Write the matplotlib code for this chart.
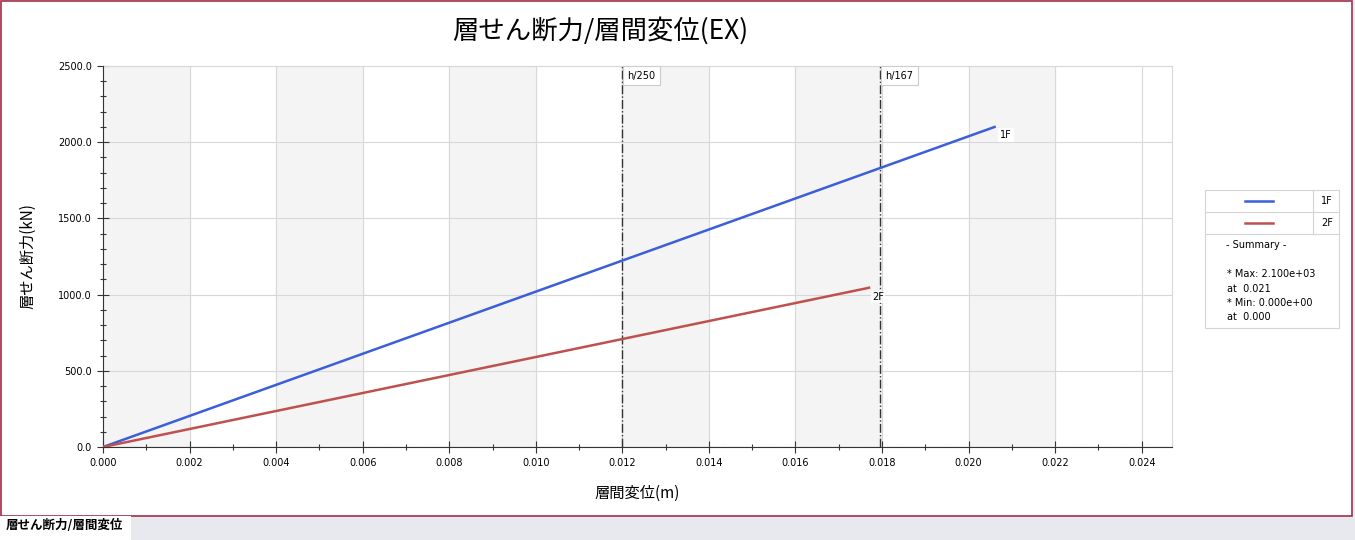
import matplotlib
matplotlib.use("Agg")
import matplotlib.pyplot as plt
from matplotlib.patches import Rectangle
from matplotlib.ticker import MultipleLocator

plt.rcParams['font.family'] = ['DejaVu Sans', 'Noto Sans CJK JP']

# data
stories = ["1F", "2F"]
disp_1f = [0.0, 0.0206]
shear_1f = [0.0, 2100.0]
disp_2f = [0.0, 0.0177]
shear_2f = [0.0, 1045.0]
colors = ["#3a5fd8", "#c0504d"]
limit_names = ["h/250", "h/167"]
limit_vals = [0.012, 0.017964]
summary = ["- Summary -", "", "* Max: 2.100e+03", "at  0.021", "* Min: 0.000e+00", "at  0.000"]

W, H = 1355, 540
fig = plt.figure(figsize=(W / 100, H / 100), dpi=100)

# outer frame and bottom tab
fig.patches.append(Rectangle((0, 0), 1, 1, transform=fig.transFigure,
                             facecolor="#e8e9ee", edgecolor="none", zorder=-3))
fig.patches.append(Rectangle((1 / W, 24 / H), 1351 / W, 515 / H, transform=fig.transFigure,
                             facecolor="white", edgecolor="#a0304a", linewidth=1.2, zorder=-2))
fig.patches.append(Rectangle((0, 0), 131 / W, 24 / H, transform=fig.transFigure,
                             facecolor="white", edgecolor="none", zorder=-1))
fig.text(6 / W, 15 / H, "層せん断力/層間変位", fontsize=9, fontweight="bold", va="center",
         family=['Noto Sans CJK JP', 'DejaVu Sans'])

ax = fig.add_axes([103 / W, 1 - 447 / H, (1172 - 103) / W, (447 - 66) / H])
ax.set_xlim(0, 0.0247)
ax.set_ylim(0, 2500)

# alternating bands
for i in range(0, 24, 4):
    ax.axvspan(i / 1000, (i + 2) / 1000, color="#f4f4f4", zorder=0)
ax.grid(True, color="#d8d8d8", linewidth=0.8, zorder=1)
ax.set_axisbelow(True)
ax.axhline(0, color="#999999", linestyle="--", linewidth=0.8, zorder=1)

ax.xaxis.set_major_locator(MultipleLocator(0.002))
ax.xaxis.set_minor_locator(MultipleLocator(0.001))
ax.yaxis.set_major_locator(MultipleLocator(500))
ax.yaxis.set_minor_locator(MultipleLocator(100))
ax.xaxis.set_major_formatter(lambda v, p: "%.3f" % v)
ax.yaxis.set_major_formatter(lambda v, p: "%.1f" % v)
ax.tick_params(which="major", direction="inout", length=8, width=0.8, color="#333333",
               labelsize=7, pad=4)
ax.tick_params(which="minor", direction="inout", length=5, width=0.8, color="#333333")

for s in ["top", "right"]:
    ax.spines[s].set_visible(False)
ax.spines["left"].set_color("#333333")
ax.spines["bottom"].set_color("#333333")
ax.plot([0, 1], [1, 1], transform=ax.transAxes, color="#d8d8d8", linewidth=0.8, clip_on=False)
ax.plot([1, 1], [0, 1], transform=ax.transAxes, color="#d8d8d8", linewidth=0.8, clip_on=False)

# drift limit lines
for name, v in zip(limit_names, limit_vals):
    ax.axvline(v, color="#333333", linestyle="-.", linewidth=1.0, zorder=3)
    ax.annotate(name, (v, 2500), xytext=(3.5, -7), textcoords="offset points",
                fontsize=7, va="center", ha="left",
                bbox=dict(boxstyle="square,pad=0.45", facecolor="white", edgecolor="#cccccc", linewidth=0.8))

ax.plot(disp_1f, shear_1f, color=colors[0], linewidth=1.8, zorder=4)
ax.plot(disp_2f, shear_2f, color=colors[1], linewidth=1.8, zorder=4)
ax.annotate(stories[0], (disp_1f[-1], shear_1f[-1]), xytext=(4, -6), textcoords="offset points",
            fontsize=7, va="center", bbox=dict(boxstyle="square,pad=0.2", facecolor="white", edgecolor="none"))
ax.annotate(stories[1], (disp_2f[-1], shear_2f[-1]), xytext=(2, -7), textcoords="offset points",
            fontsize=7, va="center", bbox=dict(boxstyle="square,pad=0.1", facecolor="white", edgecolor="none", alpha=0.8))

ax.set_xlabel("層間変位(m)", fontsize=11, labelpad=12, family=['Noto Sans CJK JP', 'DejaVu Sans'])
ax.set_ylabel("層せん断力(kN)", fontsize=11, labelpad=16, family=['Noto Sans CJK JP', 'DejaVu Sans'])
fig.text(600 / W, 1 - 31 / H, "層せん断力/層間変位(EX)", fontsize=19, ha="center", va="center",
         family=['Noto Sans CJK JP', 'DejaVu Sans'])

# legend table at the right
lg = fig.add_axes([1205 / W, 1 - 329 / H, 135 / W, 139 / H])
lg.set_xlim(0, 135)
lg.set_ylim(139, 0)
lg.axis("off")
lg.add_patch(Rectangle((0, 0), 134, 138, facecolor="white", edgecolor="#d4d4d4",
                       linewidth=0.8, clip_on=False))
lg.plot([0, 134], [22, 22], color="#d4d4d4", linewidth=0.8)
lg.plot([0, 134], [44, 44], color="#d4d4d4", linewidth=0.8)
lg.plot([108, 108], [0, 44], color="#d4d4d4", linewidth=0.8)
for i, (name, c) in enumerate(zip(stories, colors)):
    yc = 11 + 22 * i
    lg.plot([40, 68], [yc, yc], color=c, linewidth=1.8)
    lg.text(116, yc, name, fontsize=7, va="center")
for i, line in enumerate(summary):
    lg.text(21 if i == 0 else 22, 55 + 14.5 * i, line, fontsize=7, va="center")

fig.savefig("out.png", dpi=100)
